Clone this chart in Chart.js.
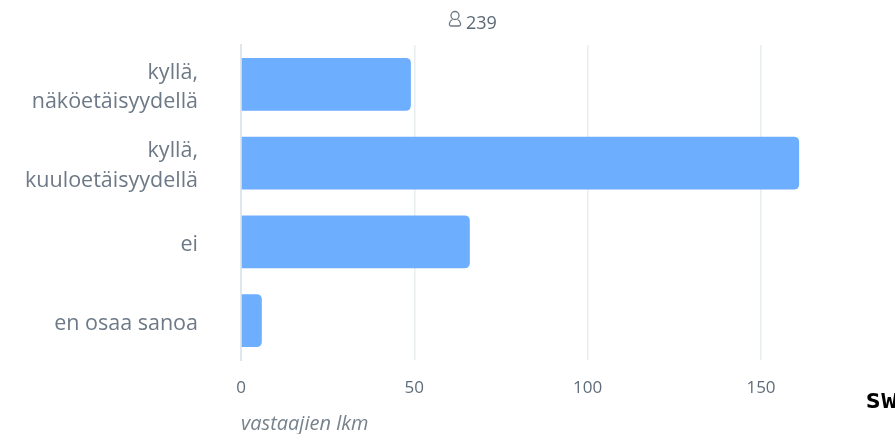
<!DOCTYPE html>
<html lang="fi">
  <head>
    <meta charset="UTF-8" />
    <title>Vastaajat</title>
    <script src="https://cdn.jsdelivr.net/npm/chart.js"></script>
    <style>
      html, body { margin: 0; padding: 0; background: #fff; overflow: hidden; }
      .wrap { position: relative; width: 895px; height: 434px; overflow: hidden; }
      .n { position: absolute; left: 466px; top: 10px; font: 18px "Open Sans"; color: #5b6875; }
      .sw { position: absolute; left: 865px; top: 383px; font: bold 27px "DejaVu Sans Mono"; color: #000; white-space: nowrap; }
    </style>
  </head>
  <body>
    <div class="wrap">
      <canvas id="canvas_grafico" width="895" height="434"></canvas>
      <span class="n">239</span>
      <span class="sw">sw</span>
    </div>
    <script>
      const categories = [
        ["kyllä,", "näköetäisyydellä"],
        ["kyllä,", "kuuloetäisyydellä"],
        "ei",
        "en osaa sanoa",
      ];
      const values = [49, 161, 66, 6];
      const xTicks = [0, 50, 100, 150];
      const xTitle = "vastaajien lkm";

      // pieni käyttäjä-ikoni luvun 239 eteen
      const userIcon = {
        id: "userIcon",
        afterDraw(chart) {
          const c = chart.ctx;
          c.save();
          c.strokeStyle = "#6d7985";
          c.lineWidth = 1.3;
          c.beginPath();
          c.arc(455, 15.5, 4, 0, Math.PI * 2);
          c.stroke();
          c.beginPath();
          c.moveTo(452.5, 19.5);
          c.bezierCurveTo(449, 21, 448.5, 26, 451, 26);
          c.lineTo(459, 26);
          c.bezierCurveTo(461.5, 26, 461, 21, 457.5, 19.5);
          c.stroke();
          c.restore();
        },
      };

      new Chart(document.getElementById("canvas_grafico"), {
        type: "bar",
        data: {
          labels: categories,
          datasets: [
            {
              data: values,
              backgroundColor: "#6eaeff",
              borderRadius: { topRight: 5, bottomRight: 5 },
              borderSkipped: false,
              categoryPercentage: 0.673,
              barPercentage: 1,
            },
          ],
        },
        plugins: [userIcon],
        options: {
          indexAxis: "y",
          responsive: false,
          animation: false,
          layout: { padding: { top: 45, right: 30, bottom: 0, left: 0 } },
          plugins: { legend: { display: false }, tooltip: { enabled: false } },
          scales: {
            x: {
              min: 0,
              max: 180,
              afterBuildTicks(scale) {
                scale.ticks = xTicks.map((v) => ({ value: v }));
              },
              afterFit(scale) {
                scale.height = 74;
                scale.paddingLeft = 0;
                scale.paddingRight = 0;
              },
              grid: { color: "#e8edf0", lineWidth: 1.5, drawTicks: false },
              border: { display: false },
              ticks: {
                padding: 18,
                maxRotation: 0,
                color: "#5f6d7b",
                font: { family: "Open Sans", size: 17 },
              },
              title: {
                display: true,
                text: xTitle,
                align: "start",
                color: "#76818c",
                padding: { top: 0, bottom: -2 },
                font: { family: "Open Sans", size: 20, style: "italic" },
              },
            },
            y: {
              afterFit(scale) {
                scale.width = 241;
                scale.paddingTop = 0;
                scale.paddingBottom = 0;
              },
              grid: { display: false, drawTicks: false },
              border: { color: "#dfe7ec", width: 2, z: -1 },
              ticks: {
                padding: 43,
                labelOffset: 3,
                color: "#6d7986",
                font: { family: "Open Sans", size: 21.5, lineHeight: 1.38 },
              },
            },
          },
        },
      });
    </script>
  </body>
</html>
